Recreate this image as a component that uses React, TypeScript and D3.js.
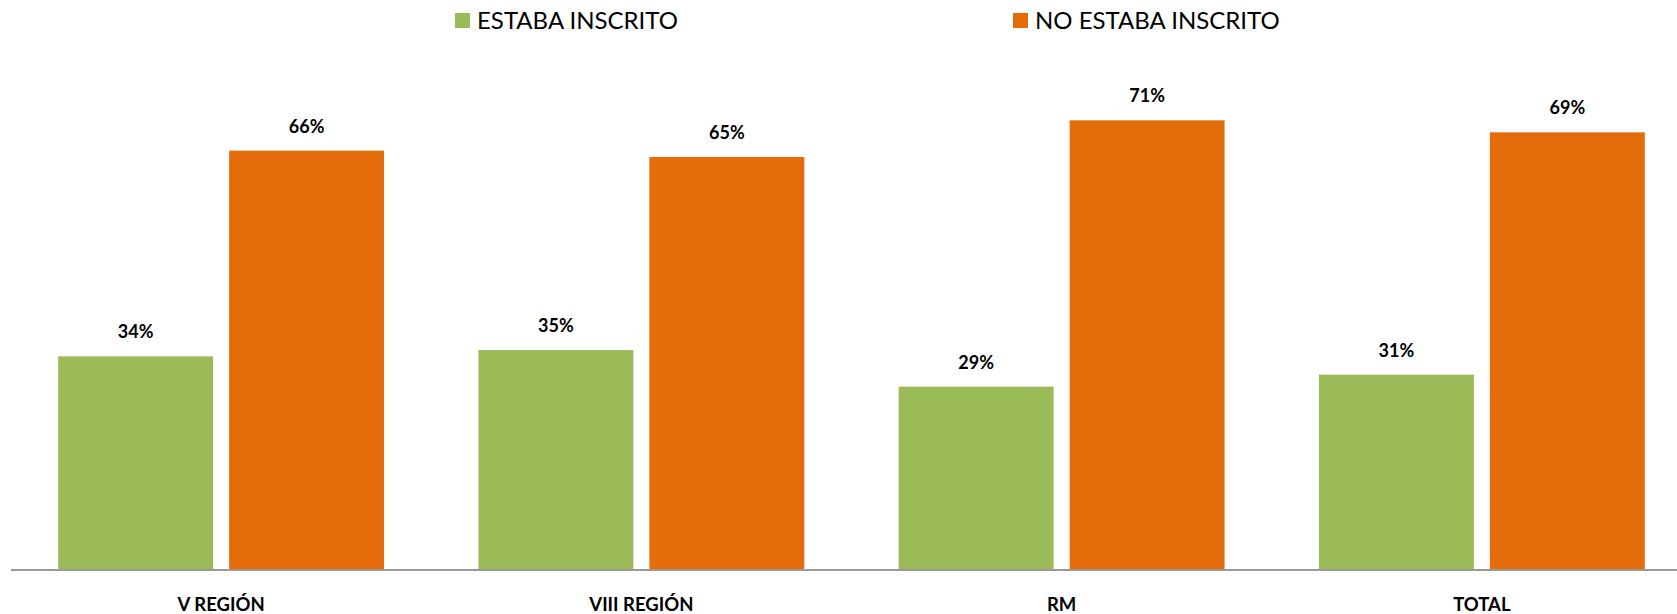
import * as d3 from "d3";
import { useMemo } from "react";

const categories = ["V REGIÓN", "VIII REGIÓN", "RM", "TOTAL"];
const seriesNames = ["ESTABA INSCRITO", "NO ESTABA INSCRITO"];
const seriesColors = ["#9BBB59", "#E46C0A"];
const inscrito = [33.7, 34.7, 28.9, 30.8];
const noInscrito = [66.3, 65.3, 71.1, 69.2];

const width = 1677;
const height = 614;
const baseY = 569;
const font = "Lato, 'Open Sans', sans-serif";

export default function App() {
  const rows = categories.map((c, i) => ({
    category: c,
    values: [inscrito[i], noInscrito[i]],
  }));

  const x0 = useMemo(
    () => d3.scaleBand().domain(categories).range([11, 1692]).padding(0),
    []
  );
  const x1 = useMemo(
    () =>
      d3
        .scaleBand()
        .domain(seriesNames)
        .range([0, x0.bandwidth()])
        .paddingInner(0.0936)
        .paddingOuter(0.276),
    [x0]
  );
  const y = useMemo(
    () => d3.scaleLinear().domain([0, 80]).range([baseY, baseY - 80 * 6.31]),
    []
  );
  const fmt = (v: number) => `${Math.round(v)}%`;

  const legendItems = [
    { name: seriesNames[0], color: seriesColors[0], x: 455 },
    { name: seriesNames[1], color: seriesColors[1], x: 1013 },
  ];

  return (
    <svg
      width={width}
      height={height}
      style={{ position: "absolute", left: 0, top: 0, background: "#fff" }}
    >
      <g className="legend">
        {legendItems.map((d) => (
          <g key={d.name} transform={`translate(${d.x}, 13)`}>
            <rect width={15} height={15} fill={d.color} />
            <text x={22} y={15.5} fontFamily={font} fontSize="24" fill="#000">
              {d.name}
            </text>
          </g>
        ))}
      </g>

      {rows.map((row) => (
        <g key={row.category} transform={`translate(${x0(row.category)}, 0)`}>
          {row.values.map((v, j) => {
            const bx = x1(seriesNames[j]) as number;
            return (
              <g key={j}>
                <rect
                  x={bx}
                  y={y(v)}
                  width={x1.bandwidth()}
                  height={baseY - y(v)}
                  fill={seriesColors[j]}
                />
                <text
                  x={bx + x1.bandwidth() / 2}
                  y={y(v) - 18}
                  textAnchor="middle"
                  fontFamily={font}
                  fontWeight="bold"
                  fontSize="18"
                  fill="#000"
                >
                  {fmt(v)}
                </text>
              </g>
            );
          })}
          <text
            x={x0.bandwidth() / 2}
            y={611}
            textAnchor="middle"
            fontFamily={font}
            fontWeight="bold"
            fontSize="18.5"
            fill="#000"
          >
            {row.category}
          </text>
        </g>
      ))}

      <line
        x1={11}
        x2={width}
        y1={baseY + 1}
        y2={baseY + 1}
        stroke="#999"
        strokeWidth={2}
      />
    </svg>
  );
}
